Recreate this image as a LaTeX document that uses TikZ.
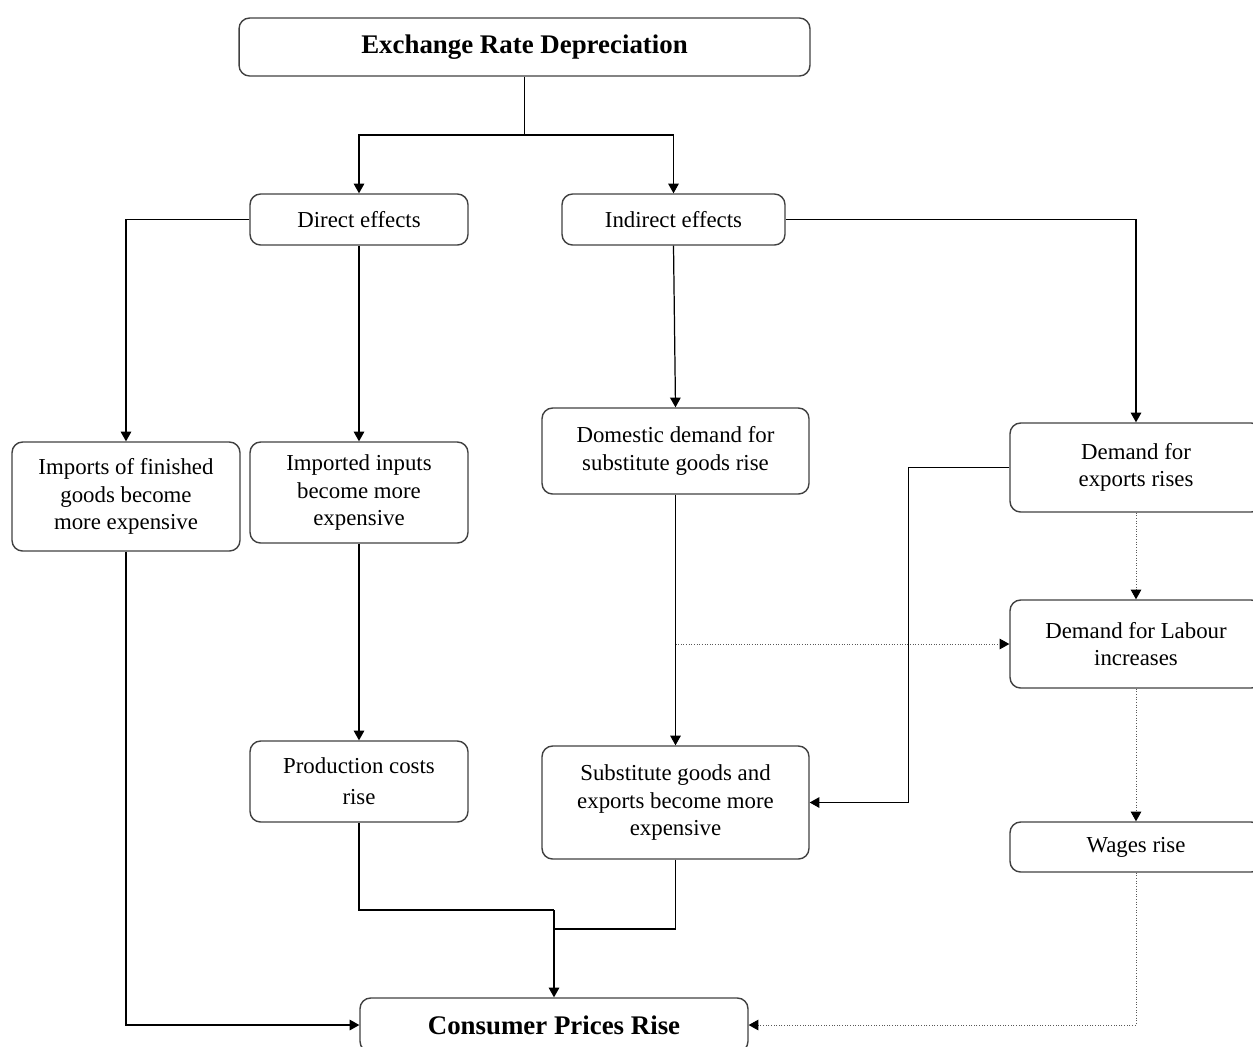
\documentclass[tikz,border=0pt]{standalone}
\usepackage{fontspec}
\setmainfont{Liberation Serif}
\usetikzlibrary{arrows.meta}
\tikzset{
  box/.style={draw=black!75, line width=0.8pt, rounded corners=6pt, align=center,
    inner sep=0pt, font=\fontsize{13}{15.5}\selectfont},
  headbox/.style={box, font=\fontsize{15.3}{18}\selectfont\bfseries},
  link/.style={-{Triangle[length=5.5pt,width=6pt]}, line width=0.7pt},
  weaklink/.style={-{Triangle[length=5.5pt,width=6pt,color=black]}, black!65, densely dotted, line width=0.5pt}
}
\begin{document}
\begin{tikzpicture}[x=0.02cm,y=-0.02cm]
			\useasboundingbox (0,0) rectangle (1253,1046);
			\clip (0,0) rectangle (1253,1046);
			% top and effect boxes
			\node[headbox, minimum width=11.42cm, minimum height=1.16cm] (ERD) at (524.5,47) {Exchange Rate Depreciation};
			\node[box, minimum width=4.36cm, minimum height=1.02cm] (DE) at (359,219.5) {Direct effects};
			\node[box, minimum width=4.46cm, minimum height=1.02cm] (IE) at (673.5,219.5) {Indirect effects};
			% middle row
			\node[box, minimum width=4.56cm, minimum height=2.18cm] (IFG) at (126,496.5) {Imports of finished\\goods become\\more expensive};
			\node[box, minimum width=4.36cm, minimum height=2.02cm] (II) at (359,492.5) {Imported inputs\\become more\\expensive};
			\node[box, minimum width=5.34cm, minimum height=1.72cm] (DD) at (675.5,451) {Domestic demand for\\substitute goods rise};
			\node[box, minimum width=5.04cm, minimum height=1.78cm] (DX) at (1136,467.5) {Demand for\\exports rises};
			\node[box, minimum width=5.04cm, minimum height=1.76cm] (DL) at (1136,644) {Demand for Labour\\increases};
			% lower row
			\node[box, minimum width=4.36cm, minimum height=1.62cm] (PC) at (359,781.5) {Production costs\\[2pt]rise};
			\node[box, minimum width=5.34cm, minimum height=2.26cm] (SG) at (675.5,802.5) {Substitute goods and\\exports become more\\expensive};
			\node[box, minimum width=5.04cm, minimum height=1.0cm] (WR) at (1136,847) {Wages rise};
			\node[headbox, minimum width=7.76cm, minimum height=1.08cm] (CPR) at (554,1025) {Consumer Prices Rise};
			% connectors
			\coordinate (split) at (524.5,135);
			\coordinate (tap) at (675.5,644);
			\coordinate (join) at (554,910);
			\draw[line width=0.7pt] (ERD.south) -- (split);
			\draw[link] (split) -| (DE.north);
			\draw[link] (split) -| (IE.north);
			\draw[link] (DE.west) -| (IFG.north);
			\draw[link] (DE) -- (II);
			\draw[link] (II) -- (PC);
			\draw[link] (IE.south) -- (DD.north);
			\draw[link] (IE.east) -| (DX.north);
			\draw[link] (DD) -- (SG);
			\draw[link] (DX.west) -- ++(-101,0) |- (SG.east);
			\draw[weaklink] (tap) -- (DL.west);
			\draw[weaklink] (DX) -- (DL);
			\draw[weaklink] (DL) -- (WR);
			\draw[weaklink] (WR.south) |- (CPR.east);
			\draw[link] (IFG.south) |- (CPR.west);
			\draw[line width=0.7pt] (PC.south) |- (join);
			\draw[line width=0.7pt] (SG.south) |- (join |- 0,929);
			\draw[link] (join) -- (CPR.north);
\end{tikzpicture}
\end{document}
